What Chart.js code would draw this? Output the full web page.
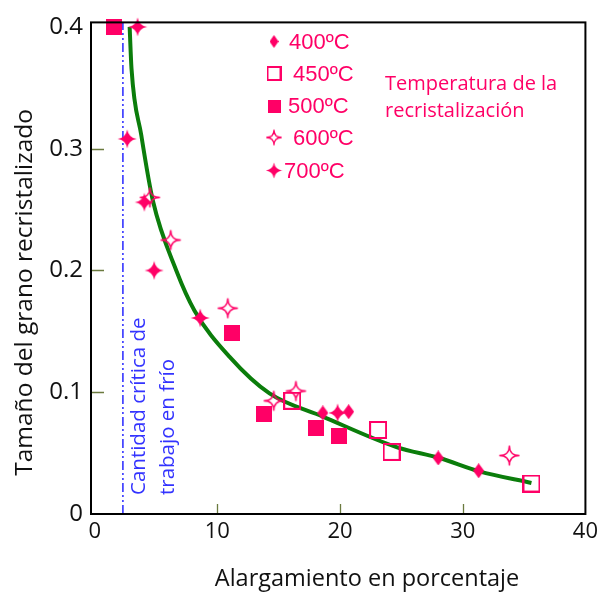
<!DOCTYPE html>
<html>
<head>
<meta charset="utf-8">
<script src="https://cdn.jsdelivr.net/npm/chart.js@4"></script>
<style>
  html, body { margin: 0; padding: 0; background: #fff; }
  #wrap { width: 603px; height: 597px; }
</style>
</head>
<body>
<div id="wrap"><canvas id="grainChart"></canvas></div>
<script>
// Datos
const seriesLabels = ['400ºC', '450ºC', '500ºC', '600ºC', '700ºC'];
const x400 = [18.6, 20.7, 28.0, 31.3];
const y400 = [0.083, 0.084, 0.046, 0.0355];
const x450 = [16.1, 23.1, 24.2, 35.6];
const y450 = [0.093, 0.069, 0.051, 0.025];
const x500 = [1.6, 11.2, 13.8, 18.0, 19.9];
const y500 = [0.400, 0.149, 0.082, 0.071, 0.064];
const x600 = [4.5, 6.2, 10.85, 14.6, 16.4, 33.8];
const y600 = [0.260, 0.225, 0.169, 0.093, 0.101, 0.048];
const x700 = [2.65, 3.5, 4.05, 4.85, 8.6, 19.8];
const y700 = [0.308, 0.400, 0.256, 0.200, 0.161, 0.083];
// Curva de ajuste
const curveX = [2.85, 3.0, 3.8, 4.75, 6.65, 8.14, 11.0, 14.25, 18.6, 24.6, 28.1, 31.35, 35.6];
const curveY = [0.400, 0.366, 0.311, 0.257, 0.200, 0.167, 0.129, 0.099, 0.080, 0.055, 0.046, 0.035, 0.0255];
// Cantidad crítica de trabajo en frío
const criticalX = 2.3;
const xTicks = [0, 10, 20, 30, 40];
const yTicks = [0, 0.1, 0.2, 0.3, 0.4];

const PINK = '#ff0066';
const BLUE = '#3333ff';
const GREEN = '#0b7d0b';

function toPoints(xs, ys) {
    return xs.map((x, i) => ({ x: x, y: ys[i] }));
}

// Marcadores dibujados en un canvas pequeño
function shape(w, h, draw) {
    const c = document.createElement('canvas');
    c.width = w;
    c.height = h;
    const g = c.getContext('2d');
    g.fillStyle = PINK;
    g.strokeStyle = PINK;
    draw(g, w, h);
    return c;
}

function diamond(w, h) {
    return shape(w, h, (g) => {
        g.beginPath();
        g.moveTo(w / 2, 0);
        g.lineTo(w, h / 2);
        g.lineTo(w / 2, h);
        g.lineTo(0, h / 2);
        g.closePath();
        g.fill();
    });
}

function filledSquare(s) {
    return shape(s, s, (g) => g.fillRect(0, 0, s, s));
}

function openSquare(s, lw) {
    return shape(s, s, (g) => {
        g.lineWidth = lw;
        g.strokeRect(lw / 2, lw / 2, s - lw, s - lw);
    });
}

// estrella de cuatro puntas; k abulta el centro
function star(s, filled, lw, k) {
    return shape(s, s, (g) => {
        const c = s / 2;
        const r = s / 2 - (filled ? 0.5 : lw);
        const d = r * k;
        g.beginPath();
        g.moveTo(c, c - r);
        g.quadraticCurveTo(c + d, c - d, c + r, c);
        g.quadraticCurveTo(c + d, c + d, c, c + r);
        g.quadraticCurveTo(c - d, c + d, c - r, c);
        g.quadraticCurveTo(c - d, c - d, c, c - r);
        g.closePath();
        if (filled) {
            g.fill();
        } else {
            g.lineWidth = lw;
            g.stroke();
        }
    });
}

const markers = [diamond(11, 15), openSquare(18, 2), filledSquare(16), star(23, false, 1.4, 0), star(20, true, 0, 0.14)];
const legendMarkers = [diamond(9, 13), openSquare(15, 2), filledSquare(13), star(18, false, 1.3, 0), star(17, true, 0, 0.14)];

const seriesX = [x400, x450, x500, x600, x700];
const seriesY = [y400, y450, y500, y600, y700];

const markerSets = seriesLabels.map((label, i) => ({
    type: 'scatter',
    label: label,
    data: toPoints(seriesX[i], seriesY[i]),
    pointStyle: markers[i],
    pointRadius: 8,
    pointHoverRadius: 8,
    clip: false,
    order: 1
}));

// Texto, marco y marcas interiores
const decorations = {
    id: 'decorations',
    afterDatasetsDraw(chart) {
        const { ctx, chartArea: a, scales } = chart;
        ctx.save();
        // marcas interiores
        ctx.strokeStyle = '#6b7a3f';
        ctx.lineWidth = 1.3;
        ctx.beginPath();
        xTicks.slice(1, -1).forEach(v => {
            const px = Math.round(scales.x.getPixelForValue(v)) + 0.5;
            ctx.moveTo(px, a.bottom);
            ctx.lineTo(px, a.bottom - 10);
        });
        yTicks.slice(1, -1).forEach(v => {
            const py = Math.round(scales.y.getPixelForValue(v)) + 0.5;
            ctx.moveTo(a.left, py);
            ctx.lineTo(a.left + 13, py);
        });
        ctx.stroke();
        // marco
        ctx.strokeStyle = '#000';
        ctx.lineWidth = 2;
        ctx.strokeRect(a.left, a.top, a.right - a.left, a.bottom - a.top);
        ctx.restore();
    },
    afterDraw(chart) {
        const { ctx, chartArea: a } = chart;
        ctx.save();
        // títulos de los ejes
        ctx.fillStyle = '#111';
        ctx.font = '23.5px "Open Sans"';
        ctx.textAlign = 'center';
        ctx.textBaseline = 'middle';
        ctx.fillText('Alargamiento en porcentaje', a.left + 276, 579);
        ctx.save();
        ctx.translate(25, a.top + 270);
        ctx.rotate(-Math.PI / 2);
        ctx.font = '24.5px "Open Sans"';
        ctx.fillText('Tamaño del grano recristalizado', 0, 0);
        ctx.restore();

        // texto vertical azul
        ctx.fillStyle = BLUE;
        ctx.font = '20.5px "Open Sans"';
        ctx.textAlign = 'left';
        ctx.textBaseline = 'alphabetic';
        [['Cantidad crítica de', 145], ['trabajo en frío', 174]].forEach(([t, x]) => {
            ctx.save();
            ctx.translate(x, a.bottom - 19);
            ctx.rotate(-Math.PI / 2);
            ctx.fillText(t, 0, 0);
            ctx.restore();
        });

        // leyenda
        const rows = [41.5, 73.5, 106, 137.5, 170.5];
        const textX = [289, 293, 288, 293, 284];
        ctx.fillStyle = PINK;
        ctx.font = '22px "Liberation Sans"';
        ctx.textBaseline = 'middle';
        rows.forEach((y, i) => {
            const m = legendMarkers[i];
            ctx.drawImage(m, 274 - m.width / 2, y - m.height / 2);
            ctx.fillText(seriesLabels[i], textX[i], y + 1);
        });
        ctx.font = '20px "Open Sans"';
        ctx.fillText('Temperatura de la', 385, 84);
        ctx.fillText('recristalización', 385, 111);
        ctx.restore();
    }
};

new Chart(document.getElementById('grainChart'), {
    data: {
        datasets: [
            ...markerSets,
            {
                type: 'line',
                label: 'ajuste',
                data: toPoints(curveX, curveY),
                borderColor: GREEN,
                borderWidth: 4,
                pointRadius: 0,
                cubicInterpolationMode: 'monotone',
                fill: false,
                order: 5
            },
            {
                type: 'line',
                label: 'crítica',
                data: [{ x: criticalX, y: 0 }, { x: criticalX, y: 0.4037 }],
                borderColor: BLUE,
                borderWidth: 1.6,
                borderDash: [9, 3, 2, 3, 2, 3],
                pointRadius: 0,
                fill: false,
                order: 6
            }
        ]
    },
    options: {
        responsive: true,
        maintainAspectRatio: false,
        animation: false,
        layout: { padding: { top: 20, right: 16, left: 0, bottom: 0 } },
        plugins: {
            legend: { display: false },
            tooltip: { enabled: false }
        },
        scales: {
            x: {
                type: 'linear',
                min: -0.3,
                max: 40,
                afterBuildTicks: (s) => { s.ticks = xTicks.map(v => ({ value: v })); },
                afterFit: (s) => { s.height = 83; },
                grid: { display: false, drawTicks: false },
                border: { display: false },
                ticks: {
                    padding: 5,
                    color: '#111',
                    font: { family: 'Open Sans', size: 22 },
                    callback: (v) => String(v)
                }
            },
            y: {
                type: 'linear',
                min: 0,
                max: 0.4037,
                afterBuildTicks: (s) => { s.ticks = yTicks.map(v => ({ value: v })); },
                afterFit: (s) => { s.width = 91; },
                grid: { display: false, drawTicks: false },
                border: { display: false },
                ticks: {
                    padding: 8,
                    color: '#111',
                    font: { family: 'Open Sans', size: 24 },
                    callback: (v) => v === 0 ? '0' : v.toFixed(1)
                }
            }
        }
    },
    plugins: [decorations]
});
</script>
</body>
</html>
